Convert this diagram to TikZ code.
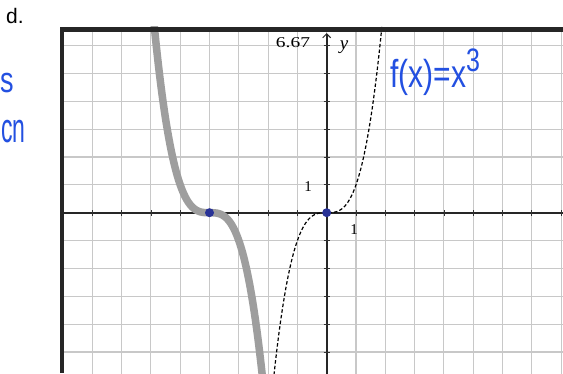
\documentclass[tikz,border=0pt]{standalone}
\usepackage{fontspec}
\setmainfont{Liberation Serif}
\newfontfamily\handfont{Liberation Sans}
\usetikzlibrary{arrows.meta}
\definecolor{inkblue}{RGB}{35,80,225}
\definecolor{dotblue}{RGB}{40,50,150}
\definecolor{gridgray}{RGB}{200,200,200}
\definecolor{curvegray}{RGB}{158,158,158}
\tikzset{
  gridline/.style={draw=gridgray,line width=1.1pt},
  axisline/.style={draw=black!85,line width=1.6pt},
  tickmark/.style={draw=black!80,line width=0.8pt},
  framebar/.style={draw=black!85,line width=4.5pt},
  handink/.style={text=inkblue,font=\handfont,inner sep=0pt},
  axlabel/.style={text=black,inner sep=0pt},
  dotmark/.style={fill=dotblue,draw=none},
}
\begin{document}
\begin{tikzpicture}[x=1pt,y=1pt]
\useasboundingbox (0,0) rectangle (563,373);
\fill[white] (0,0) rectangle (563,373);
\begin{scope}[shift={(326.7,160.3)}, x=29.3pt, y=27.85pt]
  \clip (-9,-5.8) rectangle (8.1,6.67);
  \foreach \i in {-8,...,8} \draw[gridline] (\i,-5.8) -- (\i,6.67);
  \foreach \j in {-5,...,6} \draw[gridline] (-9,\j) -- (8.1,\j);
  \draw[axisline] (-9,0) -- (8.1,0);
  \draw[axisline,-{Straight Barb[length=4pt,width=8pt,line width=1pt]}] (0,-5.8) -- (0,6.45);
  \foreach \i in {-8,...,8} \draw[tickmark] (\i,0) ++(0,-3pt) -- ++(0,6pt);
  \foreach \j in {-5,...,6} \draw[tickmark] (0,\j) ++(-3pt,0) -- ++(6pt,0);
  \draw[curvegray,line width=7.5pt,line cap=round] plot[smooth,samples=80,domain=-5.9:-2.2] (\x,{-(\x+4)*(\x+4)*(\x+4)});
  \draw[black,line width=1.2pt,dash pattern=on 3.5pt off 2.2pt] plot[smooth,samples=80,domain=-1.82:1.9] (\x,{\x*\x*\x});
  \fill[dotmark] (-4,0) circle (4.5pt);
  \fill[dotmark] (0,0) circle (4.5pt);
\end{scope}
\draw[framebar] (62,0) -- (62,343.5) -- (563,343.5);
\node[font=\handfont\fontsize{21}{24}\selectfont,inner sep=0pt] (dlabel) at (15,357) {d.};
\node[handink,font=\handfont\fontsize{36}{40}\selectfont,xscale=0.75] (sfrag) at (7,290) {s};
\node[handink,font=\handfont\fontsize{23}{28}\selectfont,yscale=1.8] (cnfrag) at (13.5,241) {cn};
\node[axlabel,font=\fontsize{15}{17}\selectfont,xscale=1.3] (ymax) at (293,330) {6.67};
\node[axlabel,font=\itshape\fontsize{19}{21}\selectfont] (ylab) at (344,326) {y};
\node[axlabel,font=\fontsize{15}{17}\selectfont] (yone) at (308,186) {1};
\node[axlabel,font=\fontsize{15}{17}\selectfont] (xone) at (354,143) {1};
\node[handink,font=\handfont\fontsize{30}{34}\selectfont,yscale=1.3,anchor=base west] (fx) at (390,285) {f(x)=x\raisebox{0.42em}{\fontsize{25}{27}\selectfont 3}};
\end{tikzpicture}
\end{document}
